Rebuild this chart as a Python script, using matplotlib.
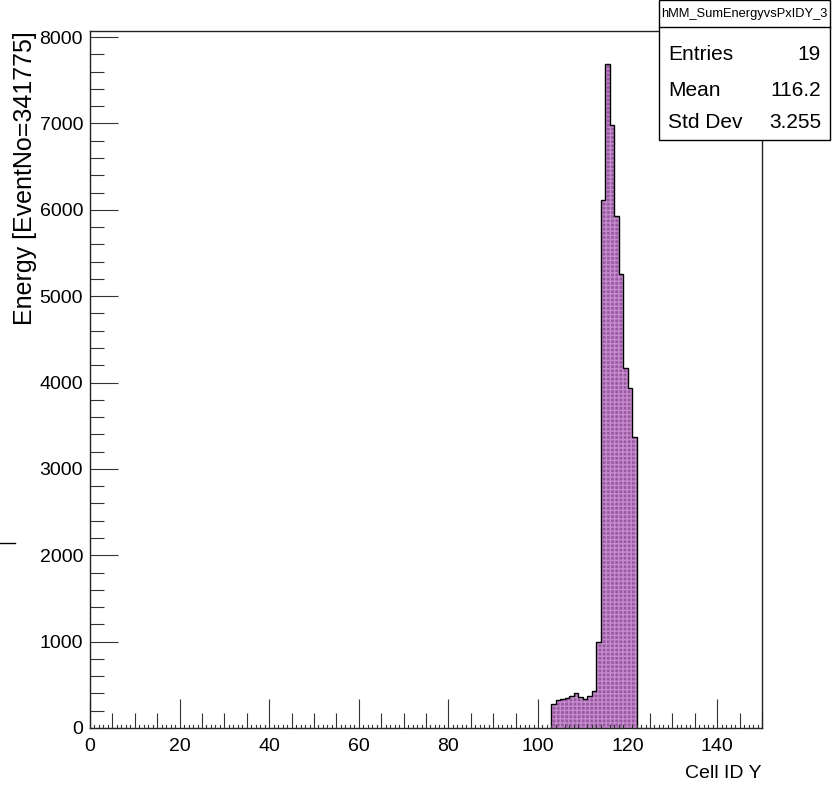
import matplotlib
matplotlib.use("Agg")
import matplotlib.pyplot as plt
from matplotlib import font_manager
from matplotlib.ticker import MultipleLocator
from matplotlib.lines import Line2D
from matplotlib.patches import Rectangle

# ---------------- data ----------------
bin_low = [103, 104, 105, 106, 107, 108, 109, 110, 111, 112,
           113, 114, 115, 116, 117, 118, 119, 120, 121]
energy = [278, 320, 336, 345, 367, 402, 356, 332, 374, 429,
          993, 6110, 7686, 6987, 5933, 5261, 4168, 3936, 3375]
hist_name = "hMM_SumEnergyvsPxIDY_3"
stat_labels = ["Entries", "Mean", "Std Dev"]
stat_values = ["19", "116.2", "3.255"]
x_label = "Cell ID Y"
y_label = "Energy [EventNo=341775]"

# ---------------- fonts ----------------
names = {f.name for f in font_manager.fontManager.ttflist}
narrow = "Liberation Sans Narrow" if "Liberation Sans Narrow" in names else "Liberation Sans"
wide = "Liberation Sans"

W, H = 835, 792
fig = plt.figure(figsize=(W / 100, H / 100), dpi=100)
fig.patch.set_facecolor("white")

left, right, top, bottom = 90, 762, 31, 728
ax = fig.add_axes([left / W, 1 - bottom / H, (right - left) / W, (bottom - top) / H])

edges = bin_low + [bin_low[-1] + 1]
ax.stairs(energy, edges, fill=True, facecolor="#9a5aa2", edgecolor="none", zorder=2)
ax.stairs(energy, edges, fill=True, facecolor="none", edgecolor="#c58ccd", hatch="++++",
          linewidth=0, zorder=2.1)
ax.stairs(energy, edges, baseline=0, fill=False, edgecolor="black", linewidth=1.0, zorder=3)

ax.set_xlim(0, 150)
ax.set_ylim(0, 8070)

ax.xaxis.set_major_locator(MultipleLocator(20))
ax.xaxis.set_minor_locator(MultipleLocator(5))
ax.yaxis.set_major_locator(MultipleLocator(1000))
ax.yaxis.set_minor_locator(MultipleLocator(200))

ax.tick_params(axis="x", which="major", direction="in", length=21, width=0.8, color="#333333",
               pad=7)
ax.tick_params(axis="x", which="minor", direction="in", length=11, width=0.8, color="#333333")
ax.tick_params(axis="y", which="major", direction="in", length=20, width=0.8, color="#333333",
               pad=5)
ax.tick_params(axis="y", which="minor", direction="in", length=10, width=0.8, color="#333333")
ax.tick_params(top=False, right=False)

# tiny ticks every unit along the x axis
for xv in range(0, 151):
    if xv % 5 != 0:
        ax.plot([xv, xv], [0, 8070 * 3.0 / 697], color="#333333", lw=0.8,
                transform=ax.transData, zorder=4, clip_on=False)

for lab in ax.get_xticklabels() + ax.get_yticklabels():
    lab.set_fontfamily(narrow)
    lab.set_fontsize(14)

for s in ax.spines.values():
    s.set_linewidth(1.0)
    s.set_color("#222222")

ax.set_xlabel(x_label, fontfamily=narrow, fontsize=14, ha="right", x=1.0)
ax.xaxis.set_label_coords(1.0, -0.053)
ax.set_ylabel(y_label, fontfamily=wide, fontsize=18, ha="right", y=1.0)
ax.yaxis.set_label_coords(-0.079, 1.0)

# small stray mark at left
fig.add_artist(Line2D([0 / W, 15 / W], [1 - 543 / H, 1 - 543 / H], color="black", lw=1))

# ---------------- stats box ----------------
bx0, bx1, by0, byt, by1 = 659, 830, 0, 27, 140
fig.add_artist(Rectangle((bx0 / W, 1 - by1 / H), (bx1 - bx0) / W, (by1 - by0) / H,
                         transform=fig.transFigure, facecolor="white", edgecolor="black",
                         lw=1.0, zorder=10))
fig.add_artist(Line2D([bx0 / W, bx1 / W], [1 - byt / H, 1 - byt / H], color="black", lw=1.0,
                      zorder=11))
fig.text((bx0 + bx1) / 2 / W, 1 - 14 / H, hist_name, fontfamily=narrow,
         fontsize=9.3, ha="center", va="center", zorder=12)
row_y = [55, 90, 123]
for lab, val, ry in zip(stat_labels, stat_values, row_y):
    fig.text(668 / W, 1 - ry / H, lab, fontfamily=narrow, fontsize=15,
             ha="left", va="center", zorder=12)
    fig.text(821 / W, 1 - ry / H, val, fontfamily=narrow, fontsize=15,
             ha="right", va="center", zorder=12)

fig.savefig("out.png", dpi=100)
